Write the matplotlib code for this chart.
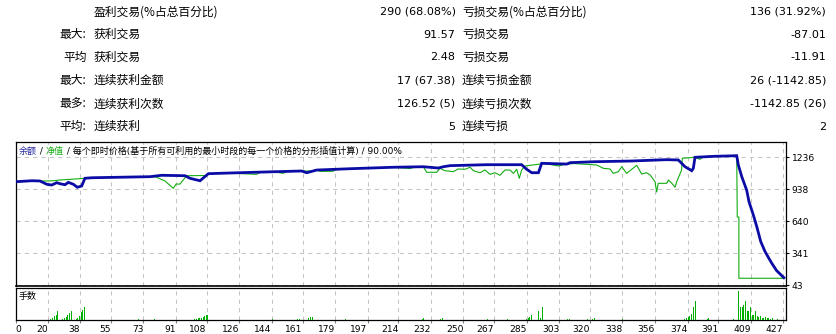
import matplotlib
matplotlib.use('Agg')
import matplotlib.pyplot as plt

plt.rcParams['font.family'] = ['DejaVu Sans', 'Noto Sans CJK SC']

# ---------------- data ----------------
stat_prefix = ['', '最大:', '平均', '最大:', '最多:', '平均:']
stat_left_label = ['盈利交易(%占总百分比)', '获利交易', '获利交易', '连续获利金额', '连续获利次数', '连续获利']
stat_left_value = ['290 (68.08%)', '91.57', '2.48', '17 (67.38)', '126.52 (5)', '5']
stat_right_label = ['亏损交易(%占总百分比)', '亏损交易', '亏损交易', '连续亏损金额', '连续亏损次数', '连续亏损']
stat_right_value = ['136 (31.92%)', '-87.01', '-11.91', '26 (-1142.85)', '-1142.85 (26)', '2']

balance_trade = [2.3, 11.2, 15.7, 19.5, 22.2, 25.0, 26.8, 29.6, 31.4, 34.2, 36.4, 38.8, 40.6, 44.3,
                 76.6, 83.1, 96.0, 98.7, 104.3, 108.9, 119.9, 144.8, 160.5, 163.3, 168.8, 188.2,
                 211.2, 227.8, 236.1, 238.9, 242.6, 262.9, 282.2, 285.0, 287.8, 291.5, 293.3,
                 307.2, 309.0, 322.8, 342.2, 362.5, 368.9, 372.6, 376.3, 377.2, 378.1, 388.2,
                 401.2, 402.1, 404.0, 406.7, 408.0, 410.4, 412.3, 414.5, 416.9, 420.6, 423.3, 427.3]
balance_value = [1008, 1017, 1015, 984, 977, 999, 989, 980, 1002, 984, 956, 968, 1040, 1045,
                 1055, 1068, 1064, 1040, 1017, 1083, 1089, 1101, 1108, 1092, 1117, 1130,
                 1143, 1148, 1136, 1148, 1158, 1167, 1167, 1124, 1092, 1092, 1180,
                 1173, 1186, 1195, 1201, 1214, 1211, 1148, 1111, 1133, 1236, 1245,
                 1251, 1164, 1055, 930, 821, 697, 588, 448, 354, 246, 177, 111]

equity_trade = [2.3, 15.7, 19.5, 23.1, 26.8, 32.3, 40.6, 44.3, 76.6, 79.9, 84.9, 89.5, 91.0, 93.2,
                95.0, 96.9, 108.0, 108.9, 119.9, 135.6, 137.5, 144.8, 150.3, 151.8, 160.5, 165.7,
                168.8, 170.7, 177.8, 179.5, 188.2, 211.2, 220.4, 223.2, 227.8, 229.7, 235.2, 237.0,
                239.8, 244.4, 247.1, 250.9, 253.7, 255.5, 259.2, 261.9, 264.7, 267.5, 270.2, 273.0,
                275.8, 277.6, 279.5, 280.9, 282.2, 284.1, 292.4, 295.1, 302.6, 305.4, 310.9, 323.7,
                327.4, 331.1, 332.9, 335.7, 337.6, 340.3, 343.1, 345.9, 348.6, 351.4, 353.3, 356.0,
                356.9, 357.8, 362.5, 363.4, 365.3, 367.1, 368.0, 370.7, 371.1, 378.1, 380.8, 382.5,
                388.2, 401.2, 401.5, 402.4, 402.4, 427.3]
equity_value = [1008, 1015, 1015, 1017, 1024, 1030, 1040, 1045, 1055, 1052, 1015, 946, 986, 986,
                1024, 1064, 1066, 1083, 1089, 1077, 1095, 1101, 1086, 1102, 1108, 1108,
                1117, 1105, 1105, 1121, 1130, 1143, 1131, 1145, 1148, 1096, 1096, 1133,
                1111, 1102, 1127, 1124, 1143, 1111, 1092, 1118, 1077, 1092, 1068, 1117,
                1117, 1086, 1124, 1040, 1117, 1155, 1173, 1178, 1155, 1167, 1178, 1164,
                1133, 1127, 1086, 1101, 1148, 1086, 1124, 1161, 1080, 1092, 1071, 1008,
                912, 993, 993, 1024, 993, 956, 1008, 1117, 1227, 1236, 1217, 1239,
                1245, 1251, 678, 678, 106, 106]

lot_trade = [21.3, 22.2, 23.5, 24.4, 25.3,
             28.1, 29.0, 30.0, 30.8, 31.8, 32.7,
             35.5, 36.4, 37.3, 38.3, 39.1, 40.1,
             70.1, 79.0,
             101.1, 102.1, 103.0, 103.9, 104.8, 105.8, 106.7, 107.6, 108.3,
             144.3, 158.1, 159.2, 164.2, 165.2, 166.1, 184.5,
             226.9, 227.8, 237.0, 238.0, 262.9, 273.9, 284.6, 285.6, 286.4, 287.6, 291.4, 292.4,
             293.6, 307.5, 308.4, 318.5, 321.3, 322.2, 337.5,
             372.2, 373.1, 374.1, 375.0, 375.9, 376.9, 378.1, 384.6, 385.5,
             399.3, 402.1, 403.0, 404.0, 404.9, 405.8, 406.8, 407.6, 408.6, 409.5, 410.4, 411.4,
             412.3, 413.2, 414.1, 415.0, 415.9, 416.9, 417.8, 418.7, 419.6, 420.5, 423.3]
lot_size = [0.01, 0.02, 0.04, 0.05, 0.09,
            0.01, 0.02, 0.03, 0.05, 0.07, 0.09,
            0.01, 0.02, 0.04, 0.08, 0.10, 0.13,
            0.01, 0.01,
            0.01, 0.01, 0.02, 0.02, 0.02, 0.03, 0.04, 0.05, 0.05,
            0.01, 0.01, 0.01, 0.02, 0.03, 0.03, 0.01,
            0.01, 0.02, 0.01, 0.02, 0.01, 0.01, 0.01, 0.02, 0.03, 0.05, 0.09, 0.02,
            0.13, 0.01, 0.01, 0.01, 0.01, 0.02, 0.01,
            0.01, 0.02, 0.03, 0.04, 0.06, 0.13, 0.19, 0.01, 0.02,
            0.01, 0.29, 0.13, 0.13, 0.15, 0.19, 0.09, 0.09, 0.13, 0.05, 0.05, 0.09,
            0.04, 0.03, 0.04, 0.02, 0.02, 0.03, 0.02, 0.02, 0.01, 0.02, 0.01]

x_tick_values = [0, 20, 38, 55, 73, 91, 108, 126, 144, 161, 179, 197, 214, 232, 250, 267,
                 285, 303, 320, 338, 356, 374, 391, 409, 427]
y_tick_values = [43, 341, 640, 938, 1236]

legend_parts = ['余额', ' / ', '净值', ' / 每个即时价格(基于所有可利用的最小时段的每一个价格的分形插值计算) / 90.00%']

# ---------------- style ----------------
W, H = 836, 334
BLUE = '#0b0ba6'
GREEN = '#12ad12'
BAR_GREEN = '#00b000'
GRID = '#c4c4c4'
fig = plt.figure(figsize=(W / 100, H / 100), dpi=100)
fig.patch.set_facecolor('white')


def fx(px):
    return px / W


def fy(py):
    return 1 - py / H


# statistics table
rows_y = [12, 34.5, 57.5, 80.7, 104, 126.7]
cjk = ['Noto Sans CJK SC', 'DejaVu Sans']
num = ['DejaVu Sans', 'Noto Sans CJK SC']
for i, ry in enumerate(rows_y):
    if stat_prefix[i]:
        fig.text(fx(86.5), fy(ry), stat_prefix[i], ha='right', va='center', fontsize=8.5, family=cjk)
    fig.text(fx(94), fy(ry), stat_left_label[i], ha='left', va='center', fontsize=8.5, family=cjk)
    fig.text(fx(455.5), fy(ry), stat_left_value[i], ha='right', va='center', fontsize=8.0, family=num)
    fig.text(fx(462), fy(ry), stat_right_label[i], ha='left', va='center', fontsize=8.5, family=cjk)
    fig.text(fx(826), fy(ry), stat_right_value[i], ha='right', va='center', fontsize=8.0, family=num)

# main pane
left_px, right_px = 15.7, 785.7
main_top, main_bot = 142.0, 285.7
vol_top, vol_bot = 287.6, 320.3
ax = fig.add_axes([fx(left_px), fy(main_bot), (right_px - left_px) / W, (main_bot - main_top) / H])
ax2 = fig.add_axes([fx(left_px), fy(vol_bot), (right_px - left_px) / W, (vol_bot - vol_top) / H])

xlim = (2.3, 428.3)
tick_pos = [xlim[0]] + x_tick_values[1:]

ax.plot(equity_trade, equity_value, color=GREEN, lw=0.8, zorder=3)
ax.plot(balance_trade, balance_value, color=BLUE, lw=2.0, zorder=4, solid_joinstyle='miter')
ax.set_xlim(*xlim)
ax.set_ylim(36.5, 1379)
ax.set_xticks(tick_pos)
ax.tick_params(axis='x', length=0, labelbottom=False)
ax.yaxis.tick_right()
ax.set_yticks(y_tick_values)
ax.set_yticklabels([str(v) for v in y_tick_values])
ax.tick_params(axis='y', length=2.4, width=0.8, pad=2.0, labelsize=6.6, colors='black')
ax.grid(True, color=GRID, lw=0.75, linestyle=(0, (4, 4)), zorder=0)
for s in ax.spines.values():
    s.set_linewidth(0.9)
    s.set_color('black')
ax.spines['bottom'].set_linewidth(1.2)

# legend text (multi-coloured)
t = ax.text(0.0043, 0.937, legend_parts[0], transform=ax.transAxes, color='#2a2aa0',
            fontsize=6.5, va='center', ha='left', zorder=6)
colors = ['black', GREEN, 'black']
for part, c in zip(legend_parts[1:], colors):
    t = ax.annotate(part, xy=(1, 0), xycoords=t, va='bottom', ha='left', color=c,
                    fontsize=6.5, zorder=6)

# volume pane
ax2.vlines(lot_trade, 0, lot_size, color=BAR_GREEN, lw=0.55, antialiased=False, zorder=3)
ax2.set_xlim(*xlim)
ax2.set_ylim(0, 0.325)
ax2.set_yticks([])
ax2.set_xticks(tick_pos)
ax2.set_xticklabels([str(v) for v in x_tick_values])
ax2.tick_params(axis='x', length=2.4, width=0.8, pad=1.0, labelsize=6.6, color='#808080')
for i, lbl in enumerate(ax2.get_xticklabels()):
    lbl.set_ha('left' if i == 0 else 'right')
ax2.grid(True, axis='x', color=GRID, lw=0.75, linestyle=(0, (4, 4)), zorder=0)
for s in ax2.spines.values():
    s.set_linewidth(0.9)
    s.set_color('black')
ax2.text(0.0043, 0.72, '手数', transform=ax2.transAxes, fontsize=6.5, va='center', ha='left',
         family=cjk)

fig.savefig('out.png', dpi=100, facecolor='white')
